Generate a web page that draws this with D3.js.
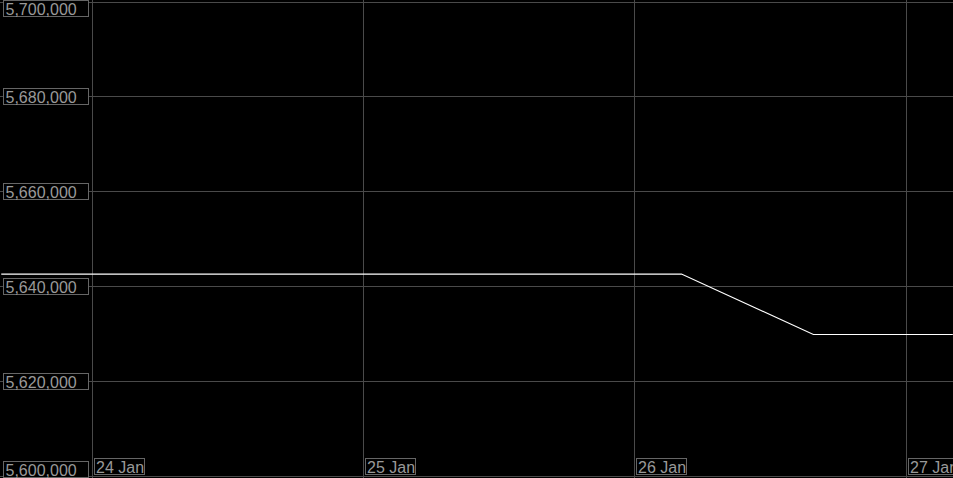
<!DOCTYPE html>
<html lang="en">
<head>
    <meta charset="UTF-8">
    <title>Price chart</title>
    <script src="https://d3js.org/d3.v7.min.js"></script>
    <style>
        body { margin: 0; background: #000; font-family: "Liberation Sans", Arial, sans-serif; }
        svg { display: block; }
    </style>
</head>
<body>
<div id="chart"></div>
<script>
    // Data
    const pointTimes = ["2024-01-23T16:00", "2024-01-26T04:10", "2024-01-26T15:50", "2024-01-27T04:10"];
    const pointValues = [5642500, 5642500, 5629750, 5629750];
    const yTicks = [5600000, 5620000, 5640000, 5660000, 5680000, 5700000];
    const xTicks = ["2024-01-24", "2024-01-25", "2024-01-26", "2024-01-27"];
    const xTickLabels = ["24 Jan", "25 Jan", "26 Jan", "27 Jan"];

    const width = 953, height = 478;
    const svg = d3.select("#chart").append("svg").attr("width", width).attr("height", height);

    const parse = d3.timeParse("%Y-%m-%dT%H:%M");
    const parseDay = d3.timeParse("%Y-%m-%d");

    // 24 Jan sits at x=91.7, 27 Jan at 905.7
    const x = d3.scaleTime()
        .domain([parseDay(xTicks[0]), parseDay(xTicks[3])])
        .range([91.7, 905.7]);
    const y = d3.scaleLinear().domain([5600000, 5700000]).range([475.5, 1.5]);

    const gridColor = "#4a4a4a";

    // horizontal grid lines
    svg.selectAll(".hgrid").data(yTicks).enter().append("line")
        .attr("x1", 0).attr("x2", width)
        .attr("y1", d => Math.round(y(d)) + 0.5).attr("y2", d => Math.round(y(d)) + 0.5)
        .attr("stroke", gridColor).attr("stroke-width", 1);

    // vertical grid lines
    svg.selectAll(".vgrid").data(xTicks).enter().append("line")
        .attr("x1", d => Math.round(x(parseDay(d))) + 0.5).attr("x2", d => Math.round(x(parseDay(d))) + 0.5)
        .attr("y1", 0).attr("y2", height)
        .attr("stroke", gridColor).attr("stroke-width", 1);

    // price line
    const line = d3.line().x((d, i) => x(parse(pointTimes[i]))).y(d => y(d));
    svg.append("path")
        .datum(pointValues)
        .attr("d", line)
        .attr("fill", "none")
        .attr("stroke", "#fff")
        .attr("stroke-width", 1.2);

    // y labels in boxes
    const fmt = d3.format(",");
    const yl = svg.selectAll(".ylab").data(yTicks).enter().append("g")
        .attr("transform", d => `translate(3,${Math.min(Math.max(Math.round(y(d)) - 8, 0), height - 17)})`);
    yl.append("rect")
        .attr("x", 0.5).attr("y", 0.5).attr("width", 85).attr("height", 16)
        .attr("fill", "#000").attr("stroke", "#666");
    yl.append("text")
        .attr("x", 2.5).attr("y", 14.5)
        .attr("fill", "#999").attr("font-size", 16)
        .text(d => fmt(d));

    // x labels in boxes
    const xl = svg.selectAll(".xlab").data(xTicks).enter().append("g")
        .attr("transform", d => `translate(${Math.round(x(parseDay(d))) + 2},458)`);
    xl.append("rect")
        .attr("x", 0.5).attr("y", 0.5).attr("width", 50).attr("height", 16)
        .attr("fill", "#000").attr("stroke", "#666");
    xl.append("text")
        .attr("x", 2).attr("y", 14.5)
        .attr("fill", "#999").attr("font-size", 16)
        .text((d, i) => xTickLabels[i]);
</script>
</body>
</html>
